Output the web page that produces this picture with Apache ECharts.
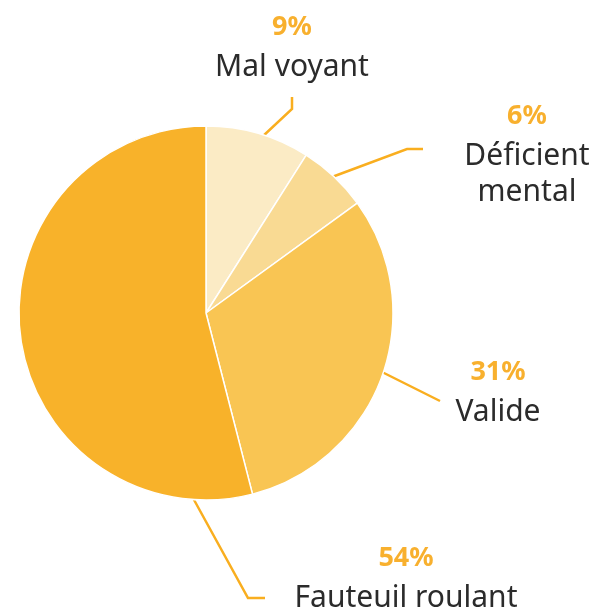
<!DOCTYPE html>
<html>
<head>
<meta charset="utf-8">
<script src="https://cdn.jsdelivr.net/npm/echarts@6/dist/echarts.min.js"></script>
<style>
  html, body { margin: 0; padding: 0; background: #fff; }
  #chart { width: 598px; height: 611px; }
</style>
</head>
<body>
<div id="chart"></div>
<script>
// données
const categories = ['Mal voyant', 'Déficient\nmental', 'Valide', 'Fauteuil roulant'];
const shares = [9, 6, 31, 54];
const sliceColors = ['#FBEBC5', '#F9DA93', '#F9C553', '#F8B22A'];

// placement des étiquettes (centre du bloc) et tracé des lignes
const labelPos = [[292, 45], [527, 152], [498, 390], [406, 576]];
const linePts = [
  [[262, 137], [292, 109], [292, 97]],
  [[332, 177], [407, 149], [423, 149]],
  [[382, 372], [440, 401]],
  [[193, 498], [248, 598], [265, 598]]
];

const chart = echarts.init(document.getElementById('chart'));

const data = categories.map((name, i) => ({
  name: name,
  value: shares[i],
  itemStyle: { color: sliceColors[i] }
}));

chart.setOption({
  animation: false,
  series: [{
    type: 'pie',
    center: [206, 313],
    radius: [0, 187],
    startAngle: 90,
    clockwise: true,
    avoidLabelOverlap: false,
    data: data,
    itemStyle: { borderColor: '#fff', borderWidth: 1.5 },
    label: {
      show: true,
      position: 'outside',
      formatter: p => '{p|' + p.value + '%}\n{n|' + p.name.split('\n').join('}\n{n|') + '}',
      align: 'center',
      rich: {
        p: { fontFamily: 'Noto Sans', fontWeight: 'bold', fontSize: 27, color: '#F8B02E', lineHeight: 44, align: 'center' },
        n: { fontFamily: 'Noto Sans', fontSize: 30, color: '#2b2b2b', lineHeight: 36, align: 'center' }
      }
    },
    labelLine: {
      show: true,
      lineStyle: { color: '#F9AE1F', width: 2.5 }
    },
    labelLayout: function (params) {
      const i = params.dataIndex;
      return {
        x: labelPos[i][0],
        y: labelPos[i][1],
        align: 'center',
        verticalAlign: 'middle',
        labelLinePoints: linePts[i]
      };
    },
    emphasis: { disabled: true }
  }]
});
</script>
</body>
</html>
